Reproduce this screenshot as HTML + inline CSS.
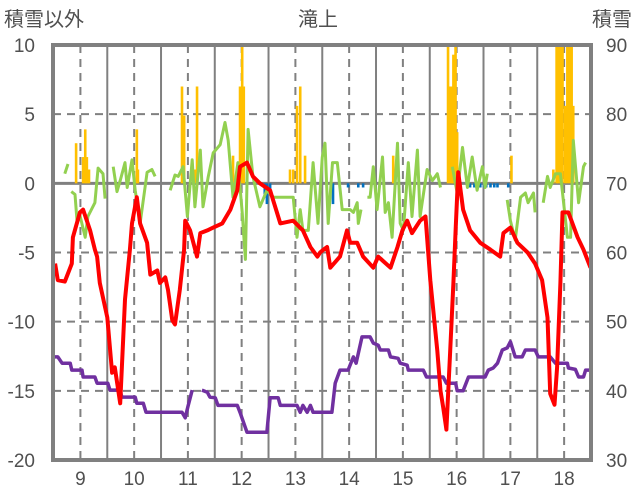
<!DOCTYPE html>
<html><head><meta charset="utf-8">
<style>
html,body{margin:0;padding:0;background:#fff;}
svg{display:block;}
text{font-family:"Liberation Sans","Noto Sans CJK JP",sans-serif;fill:#505050;}
</style></head>
<body>
<svg id="chart" width="636" height="501" viewBox="0 0 636 501" xmlns="http://www.w3.org/2000/svg">
<text x="4" y="26" font-size="20">積雪以外</text>
<text x="318" y="26" font-size="20" text-anchor="middle">滝上</text>
<text x="632" y="26" font-size="20" text-anchor="end">積雪</text>
<g id="grid"></g>
<g id="bars"></g>
<g id="lines"></g>
<g id="axes"></g>
</svg>
<script>
const leftTicks = [10, 5, 0, -5, -10, -15, -20];
const rightTicks = [90, 80, 70, 60, 50, 40, 30];
const dayLabels = [9, 10, 11, 12, 13, 14, 15, 16, 17, 18];

const redDays = [8.53,8.58,8.71,8.84,8.86,8.99,9.05,9.18,9.27,9.31,9.36,9.50,9.59,9.64,9.74,9.83,9.92,9.96,10.05,10.11,10.24,10.30,10.43,10.48,10.58,10.63,10.71,10.76,10.85,10.93,10.95,11.04,11.17,11.23,11.36,11.47,11.64,11.79,11.92,11.97,12.10,12.21,12.34,12.53,12.72,12.96,13.14,13.28,13.41,13.46,13.52,13.59,13.65,13.83,13.96,14.02,14.15,14.26,14.45,14.54,14.77,14.90,14.99,15.08,15.17,15.32,15.42,15.51,15.64,15.70,15.75,15.81,15.88,15.94,15.98,16.03,16.12,16.25,16.44,16.63,16.81,16.87,17.00,17.13,17.32,17.46,17.59,17.69,17.74,17.82,17.87,17.93,17.97,18.08,18.25,18.36,18.49];
const redVals = [-5.8,-7.0,-7.1,-5.8,-3.9,-2.1,-1.9,-3.4,-4.8,-5.3,-7.2,-9.7,-13.7,-13.3,-15.9,-8.4,-4.8,-2.9,-1.0,-2.9,-4.3,-6.6,-6.3,-7.2,-6.8,-7.7,-9.9,-10.2,-7.7,-4.8,-2.7,-3.4,-5.3,-3.6,-3.4,-3.2,-2.9,-1.9,-0.5,1.2,1.5,0.5,0.0,-0.5,-2.9,-2.7,-3.4,-4.6,-5.3,-5.0,-4.8,-4.6,-6.1,-5.3,-3.4,-4.3,-4.3,-5.3,-6.1,-5.3,-6.1,-4.6,-3.4,-2.7,-3.6,-2.7,-2.4,-7.0,-12.1,-15.0,-16.2,-17.8,-12.1,-7.2,-3.4,0.8,-1.9,-3.4,-4.3,-4.8,-5.3,-3.6,-3.2,-4.3,-5.0,-5.8,-7.0,-9.7,-15.2,-16.0,-13.3,-7.2,-2.1,-2.1,-3.9,-4.8,-6.1];

const purpleDays = [8.49,8.58,8.66,8.81,8.84,9.03,9.05,9.27,9.31,9.51,9.55,9.74,9.77,10.02,10.05,10.17,10.22,10.89,10.95,11.00,11.08,11.17,11.26,11.36,11.41,11.51,11.56,11.92,11.97,12.10,12.47,12.53,12.68,12.72,13.03,13.09,13.14,13.22,13.28,13.33,13.68,13.74,13.83,13.98,14.08,14.13,14.24,14.39,14.45,14.54,14.58,14.73,14.77,14.91,14.95,15.08,15.10,15.38,15.44,15.75,15.81,15.98,16.01,16.12,16.22,16.53,16.59,16.68,16.76,16.85,16.94,17.00,17.09,17.22,17.28,17.46,17.52,17.74,17.84,18.06,18.08,18.21,18.27,18.36,18.40,18.49];
const purpleVals = [44.9,44.9,44.0,44.0,43.0,43.0,42.0,42.0,41.1,41.1,40.1,40.1,39.1,39.1,38.2,38.2,36.9,36.9,36.1,37.7,40.1,null,40.1,39.8,39.1,39.0,37.9,37.9,36.9,34.0,34.0,39.0,39.0,37.9,37.9,36.9,37.9,36.9,37.9,36.9,36.9,41.1,43.0,43.0,44.9,44.0,47.8,47.8,46.9,46.6,45.9,45.9,44.9,44.7,44.0,43.7,43.0,43.0,42.0,42.0,41.1,41.1,40.0,40.0,42.0,42.0,43.0,43.3,44.0,45.9,46.2,47.1,44.9,44.9,45.9,45.9,44.9,44.9,44.0,44.0,43.3,43.1,42.0,42.0,43.0,43.0];

const greenDays = [8.71,8.77,8.80,8.83,8.90,8.94,8.99,9.09,9.14,9.27,9.33,9.42,9.46,9.53,9.61,9.68,9.74,9.83,9.87,9.96,10.02,10.11,10.24,10.33,10.39,10.50,10.67,10.76,10.82,10.91,10.99,11.08,11.13,11.23,11.28,11.38,11.47,11.60,11.69,11.75,11.84,11.93,12.01,12.07,12.12,12.21,12.34,12.47,12.59,12.96,13.03,13.09,13.14,13.24,13.33,13.42,13.50,13.55,13.61,13.69,13.78,13.87,14.02,14.08,14.15,14.17,14.22,14.28,14.34,14.39,14.45,14.52,14.62,14.67,14.73,14.80,14.90,14.95,15.01,15.10,15.17,15.27,15.32,15.45,15.55,15.64,15.70,15.80,15.92,16.01,16.11,16.20,16.29,16.38,16.48,16.53,16.57,16.75,16.94,17.00,17.09,17.19,17.28,17.33,17.43,17.46,17.53,17.61,17.69,17.74,17.84,17.93,17.99,18.06,18.12,18.17,18.27,18.36,18.40];
const greenVals = [0.7,1.4,null,-0.6,-0.8,-2.9,-2.3,-3.9,-2.4,-1.4,1.1,0.7,-1.1,null,1.2,-0.6,0.2,1.5,-0.3,1.7,-0.5,-2.9,0.8,1.0,0.5,null,-0.5,0.6,0.5,1.2,-2.4,1.7,-1.7,2.4,-1.7,0.5,2.2,2.8,4.4,3.1,-1.0,1.5,-2.1,-5.5,3.9,0.5,-1.7,-0.5,-1.0,-1.0,-3.9,-1.9,-3.4,-3.4,1.5,-2.9,1.9,2.9,-2.9,1.5,1.5,-1.9,-1.9,-2.1,-1.4,-2.9,-1.9,null,-1.0,-1.0,1.2,-1.9,1.9,-2.1,-1.4,-3.9,2.9,-2.9,-3.4,1.5,-2.4,2.4,-2.4,1.0,0.2,0.7,-0.3,null,1.2,-0.7,2.6,-0.3,1.9,-0.5,1.2,-0.3,0.7,null,-1.2,-2.7,-4.1,-1.0,-0.7,-1.4,-0.7,-2.1,null,-1.4,0.5,-0.3,0.7,0.7,-1.4,-3.9,-3.9,3.1,-1.4,1.2,1.5];

const barDays = [8.92,9.05,9.09,9.12,9.16,10.05,10.07,10.89,10.93,11.13,11.17,11.84,11.97,12.01,12.04,12.43,12.47,12.53,12.90,12.96,13.03,13.09,13.18,13.70,13.98,14.17,14.26,14.82,15.84,15.88,15.92,15.94,15.98,16.01,16.25,16.33,16.44,16.51,16.55,16.63,16.70,16.76,16.96,17.02,17.80,17.86,17.89,17.93,17.97,18.02,18.06,18.10,18.14,18.17];
const barVals = [2.9,1.9,3.9,1.9,1.0,3.9,1.0,7.0,4.9,1.0,7.0,2.0,7.0,10.5,7.0,-0.9,-1.5,-0.5,1.0,1.0,5.6,7.0,2.0,-1.5,-0.3,-0.3,-0.3,2.0,10.5,7.0,7.0,9.3,10.5,3.7,-0.3,-0.3,-0.3,-0.3,-0.3,-0.3,-0.3,-0.3,-0.3,2.0,1.0,10.5,10.5,10.5,10.5,5.6,10.5,10.5,10.5,5.6];

const L = 53, R = 591, T = 45, B = 460;
const dMin = 8.49, dMax = 18.5;
function xs(d){ return L + (d - dMin) / (dMax - dMin) * (R - L); }
function yl(v){ return T + (10 - v) / 30 * (B - T); }
function yr(v){ return T + (90 - v) / 60 * (B - T); }
const NS = "http://www.w3.org/2000/svg";
function mk(tag, parent, attrs){ const e = document.createElementNS(NS, tag); for (const k in attrs) e.setAttribute(k, attrs[k]); parent.appendChild(e); return e; }
const svg = document.getElementById('chart');
const defs = mk('defs', svg, {});
const cp = mk('clipPath', defs, {id:'plotclip'});
mk('rect', cp, {x:L, y:T, width:R-L, height:B-T});

const grid = document.getElementById('grid');
leftTicks.forEach(v => {
  if (v === 10 || v === -20 || v === 0) return;
  const g = mk('line', grid, {x1:L, x2:R, y1:yl(v), y2:yl(v), stroke:'#808080', 'stroke-width':2, 'stroke-dasharray':'8,6'});
  
  
});
dayLabels.forEach(d => {
  const g = mk('line', grid, {x1:xs(d), x2:xs(d), y1:T, y2:B, stroke:'#808080', 'stroke-width':2, 'stroke-dasharray':'8,6'});
  
  
  if (d < 18) {
    const s = mk('line', grid, {x1:xs(d+0.5), x2:xs(d+0.5), y1:T, y2:B, stroke:'#808080', 'stroke-width':2});
    
    
  }
});
const z = mk('line', grid, {x1:L, x2:R, y1:yl(0), y2:yl(0), stroke:'#808080', 'stroke-width':3});



const bars = document.getElementById('bars');
bars.setAttribute('clip-path', 'url(#plotclip)');
barDays.forEach((d, i) => {
  const v = barVals[i];
  const y0 = yl(0), y1 = yl(v);
  const r = mk('rect', bars, {x:xs(d) - 1.3, width:2.6, y:Math.min(y0, y1), height:Math.abs(y1 - y0), fill: v >= 0 ? '#FFC000' : '#0070C0'});
  
  
});

function pathFor(days, vals, yf){
  let d = '', pen = false;
  days.forEach((t, i) => {
    const v = vals[i];
    if (v === null || v === undefined) { pen = false; return; }
    d += (pen ? 'L' : 'M') + xs(t).toFixed(1) + ',' + yf(v).toFixed(1);
    pen = true;
  });
  return d;
}
const lines = document.getElementById('lines');
lines.setAttribute('clip-path', 'url(#plotclip)');
const gp = mk('path', lines, {d:pathFor(greenDays, greenVals, yl), fill:'none', stroke:'#92D050', 'stroke-width':3, 'stroke-linejoin':'round'});


const pp = mk('path', lines, {d:pathFor(purpleDays, purpleVals, yr), fill:'none', stroke:'#7030A0', 'stroke-width':3.5, 'stroke-linejoin':'round'});


const rp = mk('path', lines, {d:pathFor(redDays, redVals, yl), fill:'none', stroke:'#FF0000', 'stroke-width':4, 'stroke-linejoin':'round'});



const axes = document.getElementById('axes');
const fr = mk('rect', axes, {x:L, y:T, width:R-L, height:B-T, fill:'none', stroke:'#808080', 'stroke-width':4});


leftTicks.forEach(v => {
  const t = mk('text', axes, {x:35, y:yl(v) + 7, 'font-size':19, 'text-anchor':'end'});
  t.textContent = v;
  
  
});
rightTicks.forEach(v => {
  const t = mk('text', axes, {x:606, y:yr(v) + 7, 'font-size':19});
  t.textContent = v;
  
  
});
dayLabels.forEach(d => {
  const t = mk('text', axes, {x:xs(d), y:485, 'font-size':19, 'text-anchor':'middle'});
  t.textContent = d;
  
  
});
</script>
</body></html>
